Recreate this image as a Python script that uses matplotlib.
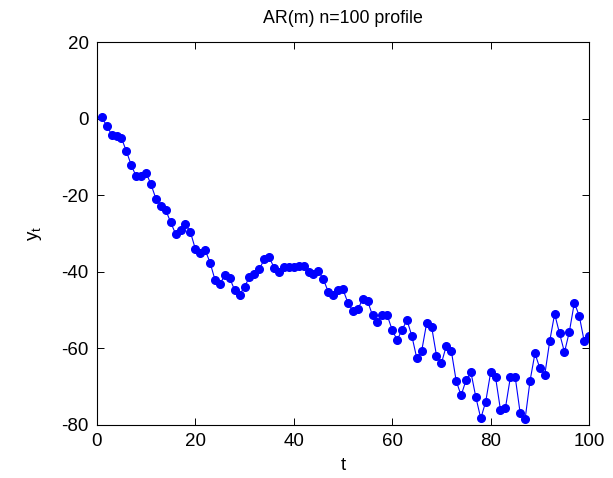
import matplotlib
matplotlib.use("Agg")
import matplotlib.pyplot as plt

t = list(range(1, 101))
y = [0.3, -1.8, -4.2, -4.5, -5.1, -8.5, -12.2, -15.1, -15.1, -14.1,
     -17.2, -20.9, -22.7, -23.9, -27.1, -30.1, -29.1, -27.6, -29.6, -34.0,
     -35.0, -34.3, -37.6, -42.1, -43.2, -40.9, -41.7, -44.8, -46.0, -43.9,
     -41.4, -40.7, -39.4, -36.7, -36.2, -38.9, -40.0, -38.8, -38.8, -38.8,
     -38.5, -38.5, -40.1, -40.7, -39.8, -41.9, -45.2, -46.1, -44.7, -44.6,
     -48.1, -50.2, -49.8, -47.2, -47.6, -51.4, -53.0, -51.4, -51.4, -55.2,
     -57.8, -55.2, -52.6, -56.8, -62.6, -60.6, -53.4, -54.3, -61.9, -63.9,
     -59.3, -60.6, -68.5, -72.3, -68.3, -66.3, -72.8, -78.3, -73.9, -66.3,
     -67.6, -76.1, -75.6, -67.6, -67.6, -76.9, -78.5, -68.5, -61.3, -65.2,
     -66.9, -58.1, -51.0, -56.1, -61.0, -55.6, -48.1, -51.5, -58.1, -56.9]

xticks = [0, 20, 40, 60, 80, 100]
yticks = [-80, -60, -40, -20, 0, 20]

plt.rcParams['font.family'] = ['Liberation Sans', 'DejaVu Sans']
plt.rcParams['mathtext.default'] = 'regular'
plt.rcParams['axes.unicode_minus'] = False

fig = plt.figure(figsize=(6.13, 4.78), dpi=100)
ax = fig.add_axes([0.158, 0.111, 0.803, 0.801])
ax.plot(t, y, color='blue', linewidth=0.8, marker='o', markersize=5.5,
        markerfacecolor='blue', markeredgecolor='blue')
ax.set_xlim(0, 100)
ax.set_ylim(-80, 20)
ax.set_xticks(xticks)
ax.set_yticks(yticks)
ax.tick_params(direction='in', top=True, right=True, length=5, labelsize=13.5, width=0.7)
ax.tick_params(axis='x', pad=6)
ax.tick_params(axis='y', pad=6)
for s in ax.spines.values():
    s.set_linewidth(0.8)
ax.set_title('AR(m) n=100 profile', fontsize=12.8, pad=14)
ax.set_xlabel('t', fontsize=13.5, labelpad=5)
ax.set_ylabel('y$_t$', fontsize=13.5, labelpad=12)
fig.savefig('out.png', dpi=100)
